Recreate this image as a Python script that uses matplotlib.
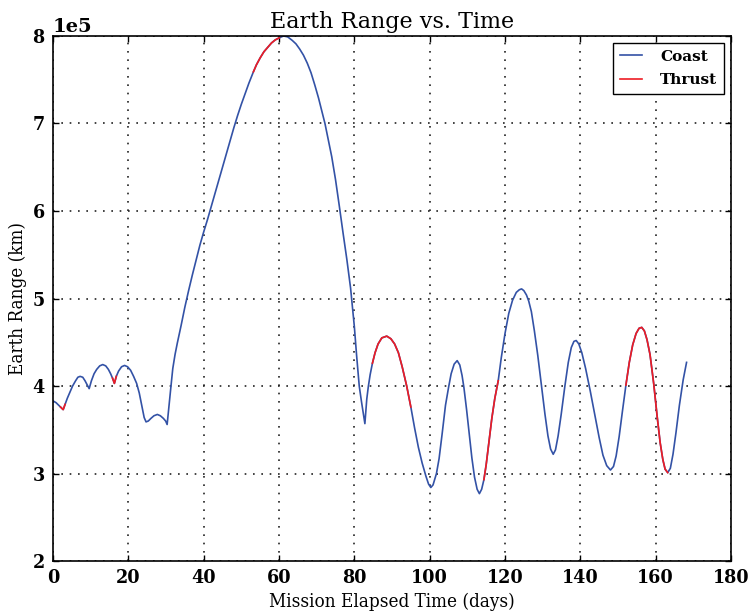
import numpy as np
import matplotlib
matplotlib.use("Agg")
import matplotlib.pyplot as plt

# mission elapsed time (days) and earth range (1e5 km)
days = [0, 0.8, 1.5, 2.0, 2.7, 3.2, 3.8, 4.5, 5.2, 6.0, 6.6, 7.2, 7.9, 8.5, 9.1, 9.6,
        10.2, 10.9, 11.6, 12.4, 13.2, 14.0, 14.7, 15.3, 15.8, 16.3, 16.8, 17.4, 18.2,
        19.0, 19.8, 20.6, 21.4, 22.2, 22.9, 23.6, 24.2, 24.7, 25.3, 26.0, 26.8, 27.7,
        28.5, 29.3, 29.9, 30.3, 30.8, 31.3, 31.8, 32.4, 33.0, 34.0, 35.0, 36.0, 37.0,
        38.0, 39.0, 40.0, 41.0, 42.0, 43.0, 44.0, 45.0, 46.0, 47.0, 48.0, 49.0, 50.0,
        51.0, 52.0, 53.2, 54.0, 55.0, 56.0, 57.0, 58.0, 59.0, 60.1, 61.2, 62.3, 63.5,
        64.5, 65.5, 66.5, 67.5, 68.5, 69.5, 70.5, 71.5, 72.2, 73.0, 74.0, 75.0, 76.0,
        77.0, 78.0, 79.0, 80.0, 80.6, 81.3, 81.9, 82.4, 82.8, 83.3, 83.7, 84.2, 84.8,
        85.5, 86.3, 87.3, 88.6, 89.7, 90.7, 91.7, 92.7, 93.9, 95.0, 96.0, 97.0, 98.0,
        99.0, 99.7, 100.3, 100.9, 101.8, 102.5, 103.3, 104.2, 105.0, 105.7, 106.5,
        107.3, 108.0, 108.6, 109.1, 109.8, 110.5, 111.2, 111.9, 112.6, 113.2, 113.8,
        114.4, 115.0, 115.7, 116.5, 117.3, 118.2, 119.0, 120.0, 121.0, 122.0, 123.0,
        123.8, 124.4, 125.0, 125.7, 126.3, 127.0, 127.8, 128.7, 129.7, 130.6, 131.4,
        132.1, 132.8, 133.4, 134.1, 134.9, 135.9, 136.8, 137.6, 138.3, 138.9, 139.6,
        140.4, 141.4, 142.6, 143.8, 145.0, 146.0, 147.0, 148.0, 148.8, 149.5, 150.3,
        151.2, 152.1, 153.0, 153.9, 154.8, 155.6, 156.3, 157.0, 157.7, 158.5, 159.5,
        160.4, 161.2, 161.9, 162.5, 163.2, 163.9, 164.6, 165.4, 166.3, 167.3, 168.2]
earth_range = [3.83, 3.81, 3.78, 3.76, 3.73, 3.79, 3.86, 3.93, 4.00, 4.06, 4.10, 4.11,
               4.10, 4.06, 4.01, 3.97, 4.06, 4.14, 4.19, 4.23, 4.245, 4.23, 4.19, 4.14,
               4.09, 4.03, 4.11, 4.17, 4.22, 4.235, 4.22, 4.18, 4.11, 4.03, 3.92, 3.77,
               3.64, 3.59, 3.60, 3.63, 3.66, 3.675, 3.66, 3.63, 3.60, 3.56, 3.78, 3.99,
               4.20, 4.36, 4.49, 4.69, 4.90, 5.09, 5.27, 5.44, 5.61, 5.76, 5.90, 6.05,
               6.20, 6.35, 6.50, 6.65, 6.80, 6.95, 7.09, 7.22, 7.34, 7.46, 7.59, 7.67,
               7.75, 7.82, 7.87, 7.92, 7.955, 7.98, 8.00, 7.99, 7.95, 7.91, 7.85, 7.78,
               7.69, 7.58, 7.44, 7.29, 7.12, 7.00, 6.83, 6.62, 6.36, 6.06, 5.75, 5.45,
               5.12, 4.68, 4.35, 4.00, 3.82, 3.68, 3.57, 3.85, 3.99, 4.13, 4.26, 4.38,
               4.48, 4.55, 4.57, 4.54, 4.48, 4.38, 4.22, 4.00, 3.76, 3.52, 3.30, 3.12,
               2.97, 2.88, 2.84, 2.87, 3.00, 3.17, 3.45, 3.78, 3.98, 4.14, 4.25, 4.29,
               4.24, 4.12, 3.98, 3.73, 3.45, 3.18, 2.96, 2.82, 2.77, 2.82, 2.93, 3.10,
               3.35, 3.63, 3.86, 4.06, 4.32, 4.60, 4.83, 4.98, 5.07, 5.10, 5.11, 5.09,
               5.04, 4.97, 4.85, 4.63, 4.35, 4.00, 3.68, 3.43, 3.28, 3.22, 3.27, 3.43,
               3.67, 4.00, 4.27, 4.44, 4.51, 4.52, 4.48, 4.38, 4.20, 3.95, 3.68, 3.41,
               3.21, 3.09, 3.04, 3.08, 3.20, 3.42, 3.72, 4.01, 4.27, 4.47, 4.60, 4.66,
               4.67, 4.63, 4.53, 4.36, 4.02, 3.65, 3.35, 3.16, 3.05, 3.01, 3.06, 3.22,
               3.47, 3.78, 4.07, 4.27]

# thrust arcs (start day, end day), everything else is coast
thrust_arcs = [(2.0, 3.2), (15.8, 16.8), (53.2, 60.1), (84.8, 95.0),
               (114.4, 118.2), (152.1, 163.2)]

t = np.array(days)
r = np.array(earth_range) * 1e5
thrust_mask = np.zeros(len(t), dtype=bool)
for start, end in thrust_arcs:
    thrust_mask |= (t >= start) & (t <= end)
r_thrust = np.where(thrust_mask, r, np.nan)

plt.rcParams['font.family'] = 'DejaVu Serif'

fig = plt.figure(figsize=(7.54, 6.13), dpi=100)
ax = fig.add_axes([0.0703, 0.0848, 0.8992, 0.8565])

ax.plot(t, r, color='#3352a6', lw=1.2, label='Coast')
ax.plot(t, r_thrust, color='#ee1c24', lw=1.2, label='Thrust')

ax.set_xlim(0, 180)
ax.set_ylim(2e5, 8e5)
ax.set_xticks(range(0, 181, 20))
ax.set_yticks(np.arange(2e5, 8.01e5, 1e5))
ax.ticklabel_format(axis='y', style='sci', scilimits=(0, 0))
ax.yaxis.get_offset_text().set_fontsize(14)
ax.yaxis.get_offset_text().set_fontweight('bold')

ax.tick_params(direction='in', top=True, right=True, length=4, width=1, pad=6,
               labelsize=14)
for lab in ax.get_xticklabels() + ax.get_yticklabels():
    lab.set_fontweight('bold')
    lab.set_fontstretch('condensed')

ax.grid(True, color='#222222', linestyle=(0, (1, 4)), linewidth=1.2)
for sp in ax.spines.values():
    sp.set_linewidth(1.2)

ax.set_title("Earth Range vs. Time", fontsize=16, pad=6)
ax.set_xlabel("Mission Elapsed Time (days)", fontsize=13.5, fontstretch='condensed')
ax.set_ylabel("Earth Range (km)", fontsize=13.5, fontstretch='condensed')

leg = ax.legend(loc='upper right', prop={'weight': 'bold', 'size': 11},
                fancybox=False, framealpha=1, handlelength=1.45, borderpad=0.45,
                labelspacing=0.6, handletextpad=1.2, borderaxespad=0.45)
leg.get_frame().set_edgecolor('black')
leg.get_frame().set_linewidth(1)

fig.savefig("out.png", dpi=100)
